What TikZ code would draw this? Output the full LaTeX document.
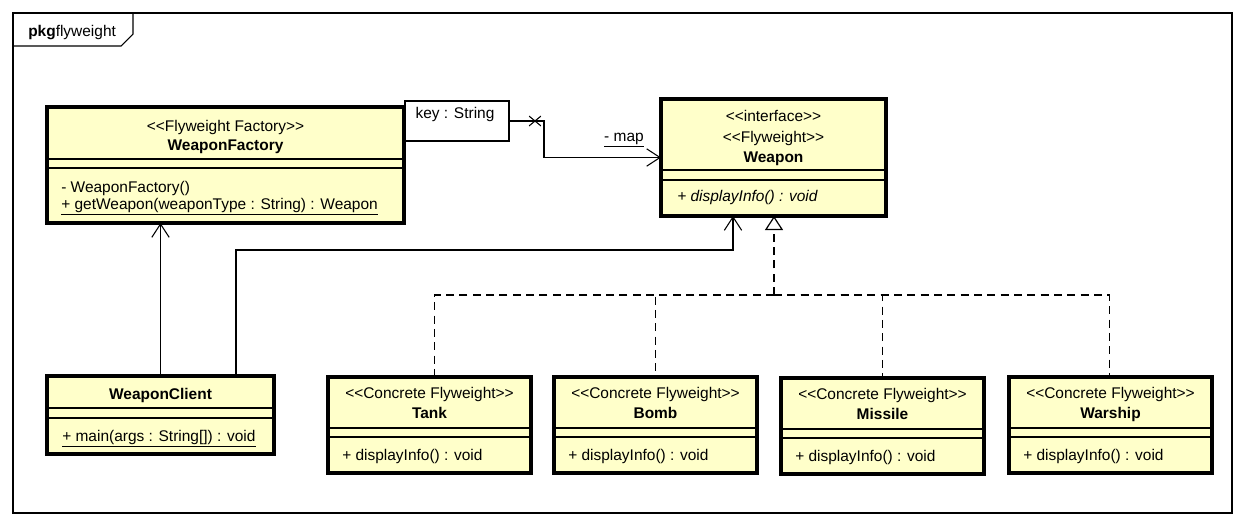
\documentclass[tikz,border=0pt]{standalone}
\usepackage{fontspec}
\newfontfamily\umlfont{Liberation Sans}
\usetikzlibrary{arrows.meta}
\usetikzlibrary{positioning}
\usetikzlibrary{shapes.misc}
\definecolor{classfill}{RGB}{255,255,202}
\tikzset{
    pkgframe/.style = {draw,line width=0.8pt,inner sep=0,outer sep=0,anchor=north west},
    classbox/.style = {draw,line width=2.4pt,fill=classfill,inner sep=0,outer sep=0,anchor=north west},
    keybox/.style = {draw,line width=0.8pt,fill=white,inner sep=0,outer sep=0,anchor=north west},
    sep/.style = {line width=0.9pt},
    txt/.style = {inner sep=0,anchor=base,font=\umlfont\fontsize{11.6}{14}\selectfont},
    optxt/.style = {txt,anchor=base west},
    assoc/.style = {line width=0.8pt,-{Straight Barb[length=10pt,width=13pt]}},
    realize/.style = {line width=0.8pt,dash pattern=on 6pt off 4pt},
    nonav/.style = {cross out,draw,line width=0.8pt,minimum width=8pt,minimum height=6.5pt,inner sep=0}
}

\begin{document}
\begin{tikzpicture}[x=0.75pt,y=-0.75pt]
        \useasboundingbox (0,0) rectangle (1245,526);
        % Package
        \node[pkgframe,minimum width=1219*0.75pt,minimum height=500*0.75pt] (pkg) at (13,13) {};
        \draw[line width=0.8pt] (pkg.north west |- 0,46) -- (121,46) -- (133,34) -- (133,13);
        \node[optxt] (pkg-name) at (28,36) {\textbf{pkg}flyweight};
        % Classes
        \node[classbox,minimum width=357*0.75pt,minimum height=116*0.75pt] (factory) at (47,107) {};
        \draw[sep] (47,159) -- +(357,0) (47,168) -- +(357,0);
        \node[txt] (factory-st) at (225.5,131) {<<Flyweight Factory>>};
        \node[txt] (factory-name) at (225.5,150) {\textbf{WeaponFactory}};
        \node[optxt] (factory-op1) at (61,192) {- WeaponFactory()};
        \node[optxt] (factory-op2) at (61,209) {\underline{+ getWeapon(weaponType : String) : Weapon}};
        \node[classbox,minimum width=225*0.75pt,minimum height=117*0.75pt] (weapon) at (661,99) {};
        \draw[sep] (661,170) -- +(225,0) (661,180) -- +(225,0);
        \node[txt] (weapon-st1) at (773.5,121) {<<interface>>};
        \node[txt] (weapon-st2) at (773.5,142) {<<Flyweight>>};
        \node[txt] (weapon-name) at (773.5,162) {\textbf{Weapon}};
        \node[optxt] (weapon-op) at (677,201) {\itshape + displayInfo() : void};
        \node[classbox,minimum width=227*0.75pt,minimum height=78*0.75pt] (client) at (47,376) {};
        \draw[sep] (47,408) -- +(227,0) (47,418) -- +(227,0);
        \node[txt] (client-name) at (160.5,399) {\textbf{WeaponClient}};
        \node[optxt] (client-op) at (62,441) {\underline{+ main(args : String[]) : void}};
        \foreach \name/\x/\y/\title in {tank/328/377/Tank,bomb/554/377/Bomb,missile/781/378/Missile,warship/1009/377/Warship}{
            \node[classbox,minimum width=203*0.75pt,minimum height=96*0.75pt] (\name) at (\x,\y) {};
            \draw[sep] (\x,\y+51) -- +(203,0) (\x,\y+60) -- +(203,0);
            \node[txt] (\name-st) at (\x+101.5,\y+21) {<<Concrete Flyweight>>};
            \node[txt] (\name-name) at (\x+101.5,\y+41) {\textbf{\title}};
            \node[optxt] (\name-op) at (\x+14,\y+83) {+ displayInfo() : void};
        }
        % Qualifier
        \node[keybox,minimum width=104*0.75pt,minimum height=40*0.75pt] (key) at (405,101) {};
        \node[txt] (key-txt) at (455,118) {key : String};
        % Associations
        \draw[assoc] (key.east) -- (544,121) |- (weapon.west);
        \node[nonav] (cross) at (535,121) {};
        \node[txt] (map) at (624,141) {\underline{- map}};
        \draw[assoc] (client.north) -- (factory.south -| client.north);
        \draw[assoc] (client.north -| 236,0) |- (733,250) -- (weapon.south -| 733,0);
        % Realizations
        \coordinate (split) at (774,295);
        \draw[realize,line width=1.3pt,-{Triangle[open,length=10.5pt,width=13.5pt,line width=0.9pt]}] (split) -- (weapon.south -| split);
        \foreach \name/\dx in {tank/5,bomb/0,missile/0,warship/-1}
            \draw[realize] (split) -| ([xshift=\dx*0.75pt]\name.north);
    \end{tikzpicture}
\end{document}
